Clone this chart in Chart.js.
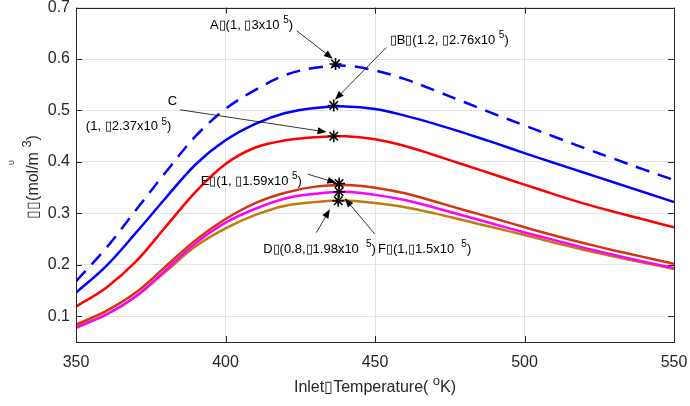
<!DOCTYPE html>
<html>
<head>
<meta charset="utf-8">
<script src="https://cdn.jsdelivr.net/npm/chart.js@4.4.1/dist/chart.umd.min.js"></script>
<style>
  html, body { margin: 0; padding: 0; background: #fff; }
  #wrap { width: 690px; height: 406px; }
</style>
</head>
<body>
<div id="wrap"><canvas id="tempChart" width="690" height="406"></canvas></div>
<script>
// inlet temperature (K)
const temps = [350, 360, 370, 380, 390, 400, 410, 420, 430, 440, 450, 460, 470, 480, 490, 500, 510, 520, 530, 540, 550];

// concentration curves (mol/m3)
const seriesA = [0.168, 0.232, 0.306, 0.380, 0.450, 0.503, 0.540, 0.569, 0.583, 0.587, 0.578, 0.561, 0.539, 0.516, 0.493, 0.471, 0.449, 0.427, 0.406, 0.385, 0.365];
const seriesB = [0.146, 0.197, 0.262, 0.330, 0.395, 0.442, 0.474, 0.495, 0.505, 0.508, 0.503, 0.490, 0.474, 0.456, 0.437, 0.417, 0.398, 0.379, 0.360, 0.341, 0.322];
const seriesC = [0.119, 0.155, 0.206, 0.274, 0.342, 0.396, 0.428, 0.442, 0.448, 0.450, 0.444, 0.431, 0.413, 0.394, 0.375, 0.356, 0.337, 0.319, 0.303, 0.288, 0.273];
const seriesE = [0.084, 0.110, 0.146, 0.197, 0.248, 0.289, 0.320, 0.340, 0.352, 0.355, 0.350, 0.339, 0.323, 0.306, 0.290, 0.273, 0.257, 0.242, 0.228, 0.215, 0.202];
const seriesF = [0.0775, 0.103, 0.139, 0.190, 0.242, 0.282, 0.309, 0.329, 0.338, 0.342, 0.336, 0.326, 0.311, 0.295, 0.279, 0.263, 0.248, 0.233, 0.219, 0.206, 0.194];
const seriesD = [0.0805, 0.103, 0.138, 0.187, 0.236, 0.271, 0.297, 0.315, 0.322, 0.325, 0.320, 0.312, 0.300, 0.286, 0.272, 0.258, 0.243, 0.229, 0.216, 0.204, 0.192];

// optimum points marked with a star
const starX = [436.8, 436.2, 436.2, 438.0, 438.0, 437.7];
const starY = [0.5905, 0.5098, 0.450, 0.3582, 0.342, 0.3245];

const xTicks = [350, 400, 450, 500, 550];
const yTicks = [0.1, 0.2, 0.3, 0.4, 0.5, 0.6, 0.7];

// labels: text anchor + arrow (data coords)
const notes = [
    { parts: [["A\u25AF(1, \u25AF3x10 "], ["5", 1], [")"]], at: [394.8, 0.6588], from: [423.8, 0.6549], to: [435.9, 0.6007] },
    { parts: [["\u25AFB\u25AF(1.2, \u25AF2.76x10 "], ["5", 1], [")"]], at: [454.9, 0.6292], from: [453.8, 0.6226], to: [436.6, 0.5208] },
    { parts: [["C"]], at: [380.7, 0.5098], from: [384.8, 0.5014], to: [433.8, 0.4581] },
    { parts: [["(1, \u25AF2.37x10 "], ["5", 1], [")"]], at: [353.3, 0.4614] },
    { parts: [["E\u25AF(1, \u25AF1.59x10 "], ["5", 1], [")"]], at: [391.7, 0.3549], from: [427.5, 0.3762], to: [437.1, 0.3594] },
    { parts: [["D\u25AF(0.8,\u25AF1.98x10  "], ["5", 1], [")"]], at: [412.6, 0.2239], from: [430.4, 0.2626], to: [434.9, 0.3079] },
    { parts: [["F\u25AF(1,\u25AF1.5x10  "], ["5", 1], [")"]], at: [451.0, 0.2239], from: [449.9, 0.2601], to: [439.9, 0.3292] },
];

const FONT = '"Liberation Sans", Arial, Helvetica, sans-serif';
const AXIS = "#262626";

function toPts(ys) {
    return temps.map((t, i) => ({ x: t, y: ys[i] }));
}

function richWidth(ctx, parts, size) {
    let w = 0;
    parts.forEach(([txt, sup]) => {
        ctx.font = (sup ? size - 3 : size) + "px " + FONT;
        w += ctx.measureText(txt).width;
    });
    return w;
}

function drawRich(ctx, parts, x, y, size) {
    let cx = x;
    parts.forEach(([txt, sup]) => {
        ctx.font = (sup ? size - 3 : size) + "px " + FONT;
        ctx.fillText(txt, cx, sup ? y - size * 0.45 : y);
        cx += ctx.measureText(txt).width;
    });
}

function arrow(ctx, x1, y1, x2, y2) {
    const ang = Math.atan2(y2 - y1, x2 - x1);
    const len = 9, hw = 3.5;
    ctx.beginPath();
    ctx.moveTo(x1, y1);
    ctx.lineTo(x2 - Math.cos(ang) * len * 0.8, y2 - Math.sin(ang) * len * 0.8);
    ctx.stroke();
    ctx.beginPath();
    ctx.moveTo(x2, y2);
    ctx.lineTo(x2 - Math.cos(ang) * len - Math.sin(ang) * hw, y2 - Math.sin(ang) * len + Math.cos(ang) * hw);
    ctx.lineTo(x2 - Math.cos(ang) * len + Math.sin(ang) * hw, y2 - Math.sin(ang) * len - Math.cos(ang) * hw);
    ctx.closePath();
    ctx.fill();
}

const frame = {
    id: "frame",
    afterDatasetsDraw(chart) {
        const { ctx, chartArea: a, scales } = chart;
        const sx = scales.x, sy = scales.y;
        ctx.save();
        // box + inward ticks, matlab style
        ctx.strokeStyle = AXIS;
        ctx.lineWidth = 1;
        ctx.strokeRect(Math.round(a.left) + 0.5, Math.round(a.top) + 0.5, Math.round(a.right - a.left), Math.round(a.bottom - a.top));
        ctx.beginPath();
        xTicks.forEach(v => {
            const px = Math.round(sx.getPixelForValue(v)) + 0.5;
            ctx.moveTo(px, a.bottom); ctx.lineTo(px, a.bottom - 6);
            ctx.moveTo(px, a.top); ctx.lineTo(px, a.top + 6);
        });
        yTicks.forEach(v => {
            const py = Math.round(sy.getPixelForValue(v)) + 0.5;
            ctx.moveTo(a.left, py); ctx.lineTo(a.left + 6, py);
            ctx.moveTo(a.right, py); ctx.lineTo(a.right - 6, py);
        });
        ctx.stroke();

        // annotations
        ctx.fillStyle = "#000";
        ctx.strokeStyle = "#000";
        ctx.lineWidth = 0.8;
        ctx.textBaseline = "alphabetic";
        ctx.textAlign = "left";
        notes.forEach(n => {
            drawRich(ctx, n.parts, sx.getPixelForValue(n.at[0]), sy.getPixelForValue(n.at[1]), 13);
            if (n.from) {
                arrow(ctx, sx.getPixelForValue(n.from[0]), sy.getPixelForValue(n.from[1]),
                    sx.getPixelForValue(n.to[0]), sy.getPixelForValue(n.to[1]));
            }
        });

        // axis titles
        ctx.fillStyle = AXIS;
        const xTitle = [["Inlet\u25AFTemperature( "], ["o", 1], ["K)"]];
        const midX = (a.left + a.right) / 2;
        drawRich(ctx, xTitle, midX - richWidth(ctx, xTitle, 16) / 2, 392, 16);

        const yTitle = [["\u25AF\u25AF(mol/m "], ["3", 1], [")"]];
        ctx.translate(38, 177);
        ctx.rotate(-Math.PI / 2);
        drawRich(ctx, yTitle, -richWidth(ctx, yTitle, 16) / 2, 0, 16);
        ctx.font = "9px " + FONT;
        ctx.fillText("\u03C5", 12, -24);
        ctx.restore();
    }
};

const lineSet = (label, ys, color, dash) => ({
    label,
    data: toPts(ys),
    borderColor: color,
    borderWidth: 2.5,
    borderDash: dash || [],
    pointRadius: 0,
    tension: 0.35,
    fill: false,
    order: 2,
});

new Chart(document.getElementById("tempChart"), {
    type: "line",
    data: {
        datasets: [
            {
                label: "optimum",
                data: starX.map((x, i) => ({ x, y: starY[i] })),
                showLine: false,
                pointStyle: "star",
                pointRadius: 6,
                borderColor: "#000",
                backgroundColor: "#000",
                pointBorderWidth: 1.6,
                order: 0,
            },
            lineSet("A", seriesA, "#0000ff", [14, 9]),
            lineSet("B", seriesB, "#0000ff"),
            lineSet("C", seriesC, "#ff0000"),
            lineSet("E", seriesE, "#d2360e"),
            lineSet("F", seriesF, "#ff00ff"),
            lineSet("D", seriesD, "#bf7c0a"),
        ],
    },
    options: {
        responsive: false,
        animation: false,
        layout: { padding: { top: 7, right: 16, left: 0, bottom: 0 } },
        plugins: { legend: { display: false }, tooltip: { enabled: false } },
        scales: {
            x: {
                type: "linear",
                min: 350,
                max: 550,
                afterBuildTicks: s => { s.ticks = xTicks.map(v => ({ value: v })); },
                afterFit: s => { s.height = 64; s.paddingLeft = 0; s.paddingRight = 0; },
                ticks: { color: AXIS, font: { family: FONT, size: 16 }, padding: 11, maxRotation: 0 },
                grid: { color: "#e3e3e3", drawTicks: false },
                border: { display: false },
            },
            y: {
                min: 0.05,
                max: 0.7,
                afterBuildTicks: s => { s.ticks = yTicks.map(v => ({ value: v })); },
                afterFit: s => { s.width = 76; s.paddingTop = 0; s.paddingBottom = 0; },
                ticks: { color: AXIS, font: { family: FONT, size: 16 }, padding: 6, callback: v => v.toFixed(1) },
                grid: { color: "#e3e3e3", drawTicks: false },
                border: { display: false },
            },
        },
    },
    plugins: [frame],
});
</script>
</body>
</html>
